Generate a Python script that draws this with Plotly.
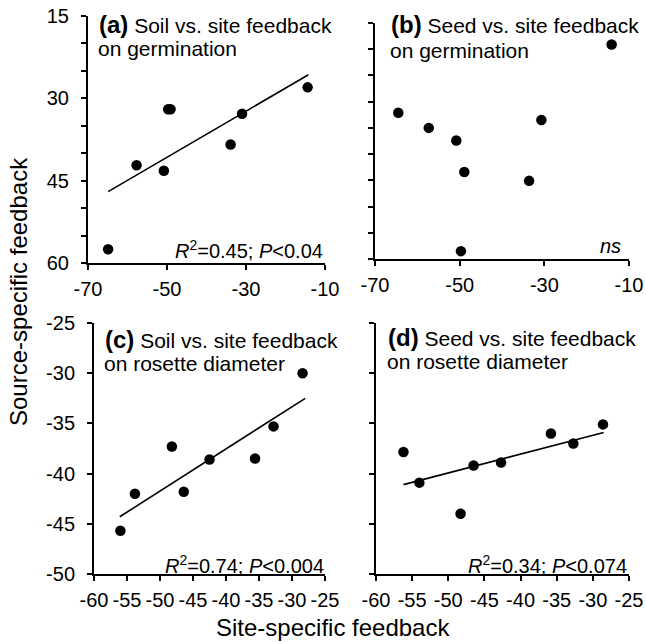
import plotly.graph_objects as go

W, H = 646, 642

# ---------------- data ----------------
# (a) Soil vs. site feedback on germination
a_site = [-64.9, -57.7, -50.8, -49.7, -49.1, -33.9, -31.0, -14.4]
a_source = [57.5, 42.2, 43.2, 32.0, 32.0, 38.4, 32.8, 28.0]
a_fit_x = [-64.9, -14.2]
a_fit_y = [47.0, 25.7]
a_stat = "<i>R</i><sup>2</sup>=0.45; <i>P</i>&lt;0.04"

# (b) Seed vs. site feedback on germination
b_site = [-64.5, -57.3, -50.8, -48.9, -49.7, -33.6, -30.7, -14.1]
b_source = [32.1, 35.0, 37.4, 43.4, 58.5, 45.1, 33.5, 19.1]
b_stat = "<i>ns</i>"

# (c) Soil vs. site feedback on rosette diameter
c_site = [-56.0, -53.8, -48.2, -46.4, -42.5, -35.6, -32.8, -28.4]
c_source = [-45.7, -42.0, -37.3, -41.8, -38.6, -38.5, -35.3, -30.0]
c_fit_x = [-56.1, -28.0]
c_fit_y = [-44.3, -32.5]
c_stat = "<i>R</i><sup>2</sup>=0.74; <i>P</i>&lt;0.004"

# (d) Seed vs. site feedback on rosette diameter
d_site = [-56.2, -54.0, -48.3, -46.5, -42.7, -35.8, -32.7, -28.6]
d_source = [-37.85, -40.9, -44.0, -39.2, -38.9, -36.0, -37.0, -35.1]
d_fit_x = [-56.2, -28.5]
d_fit_y = [-41.1, -35.9]
d_stat = "<i>R</i><sup>2</sup>=0.34; <i>P</i>&lt;0.074"

germ_ticks = [-70, -50, -30, -10]
germ_yticks = [15, 30, 45, 60]
ros_ticks = [-60, -55, -50, -45, -40, -35, -30, -25]
ros_yticks = [-50, -45, -40, -35, -30, -25]

titles = [("(a)", "Soil vs. site feedback", "on germination"),
          ("(b)", "Seed vs. site feedback", "on germination"),
          ("(c)", "Soil vs. site feedback", "on rosette diameter"),
          ("(d)", "Seed vs. site feedback", "on rosette diameter")]

# ---------------- layout helpers ----------------
FONT = "Arial, Liberation Sans, sans-serif"


def px_x(p):
    return p / W


def px_y(p):
    return 1 - p / H


def labels(vals):
    return [str(v) for v in vals]


# pixel boxes: (left, right, top, bottom)
boxes = {
    1: (88, 325, 16, 263),
    2: (375, 629, 23, 259),
    3: (94, 325, 323, 574),
    4: (376, 629, 323, 574),
}

fig = go.Figure()

mk = dict(color="black", size=10.5)
ln = dict(color="black", width=1.6)

fig.add_trace(go.Scatter(x=a_site, y=a_source, mode="markers", marker=mk, xaxis="x", yaxis="y"))
fig.add_trace(go.Scatter(x=a_fit_x, y=a_fit_y, mode="lines", line=ln, xaxis="x", yaxis="y"))
fig.add_trace(go.Scatter(x=b_site, y=b_source, mode="markers", marker=mk, xaxis="x2", yaxis="y2"))
fig.add_trace(go.Scatter(x=c_site, y=c_source, mode="markers", marker=mk, xaxis="x3", yaxis="y3"))
fig.add_trace(go.Scatter(x=c_fit_x, y=c_fit_y, mode="lines", line=ln, xaxis="x3", yaxis="y3"))
fig.add_trace(go.Scatter(x=d_site, y=d_source, mode="markers", marker=mk, xaxis="x4", yaxis="y4"))
fig.add_trace(go.Scatter(x=d_fit_x, y=d_fit_y, mode="lines", line=ln, xaxis="x4", yaxis="y4"))

base_axis = dict(showline=True, linecolor="black", linewidth=2, ticks="outside",
                 ticklen=5, tickwidth=2, tickcolor="black", showgrid=False,
                 zeroline=False, tickangle=0, automargin=False,
                 tickfont=dict(family=FONT, size=20, color="black"))

layout = dict(width=W, height=H,
              margin=dict(l=0, r=0, t=0, b=0, pad=0, autoexpand=False),
              paper_bgcolor="white", plot_bgcolor="white", showlegend=False,
              font=dict(family=FONT, color="black"))

for i in range(1, 5):
    l, r, t, b = boxes[i]
    xa = dict(base_axis, domain=[px_x(l), px_x(r)], anchor="y" if i == 1 else f"y{i}",
              ticklabelstandoff=2)
    ya = dict(base_axis, domain=[px_y(b), px_y(t)], anchor="x" if i == 1 else f"x{i}",
              ticklabelstandoff=8)
    if i <= 2:
        xa.update(range=[-70, -10], tickvals=germ_ticks, ticktext=labels(germ_ticks))
        ya.update(range=[60, 15], tickvals=germ_yticks, ticktext=labels(germ_yticks),
                  minor=dict(dtick=5, tick0=15, ticks="outside", ticklen=5,
                             tickwidth=2, tickcolor="black", showgrid=False))
    else:
        xa.update(range=[-60, -25], tickvals=ros_ticks, ticktext=labels(ros_ticks))
        ya.update(range=[-50, -25], tickvals=ros_yticks, ticktext=labels(ros_yticks))
    if i in (2, 4):
        ya.update(showticklabels=False)
    layout["xaxis" if i == 1 else f"xaxis{i}"] = xa
    layout["yaxis" if i == 1 else f"yaxis{i}"] = ya

fig.update_layout(**layout)

# ---------------- annotations ----------------
title_pos = {1: (97, 25, 49), 2: (389, 25, 50), 3: (103, 339, 363), 4: (386, 337, 361)}
for i, (lab, l1, l2) in enumerate(titles, start=1):
    x0, y1, y2 = title_pos[i]
    fig.add_annotation(x=px_x(x0), y=px_y(y1), xref="paper", yref="paper",
                       xanchor="left", yanchor="middle", showarrow=False,
                       text=f"<b><span style='font-size:24px'>{lab}</span></b> {l1}",
                       font=dict(family=FONT, size=21, color="black"))
    fig.add_annotation(x=px_x(x0 - 1), y=px_y(y2), xref="paper", yref="paper",
                       xanchor="left", yanchor="middle", showarrow=False,
                       text=l2, font=dict(family=FONT, size=21, color="black"))

stats = [(a_stat, 325, 250), (b_stat, 623, 246), (c_stat, 326, 564), (d_stat, 629, 564)]
for txt, xr, yc in stats:
    fig.add_annotation(x=px_x(xr), y=px_y(yc), xref="paper", yref="paper",
                       xanchor="right", yanchor="middle", showarrow=False,
                       text=txt, font=dict(family=FONT, size=20, color="black"))

fig.add_annotation(x=px_x(333), y=px_y(627), xref="paper", yref="paper",
                   xanchor="center", yanchor="middle", showarrow=False,
                   text="Site-specific feedback", font=dict(family=FONT, size=24, color="black"))
fig.add_annotation(x=px_x(18), y=px_y(292), xref="paper", yref="paper",
                   xanchor="center", yanchor="middle", showarrow=False, textangle=-90,
                   text="Source-specific feedback", font=dict(family=FONT, size=24, color="black"))

fig.write_html("out.html", config={"displayModeBar": False, "staticPlot": True},
               post_script="document.body.style.margin='0';document.body.style.overflow='hidden';")
